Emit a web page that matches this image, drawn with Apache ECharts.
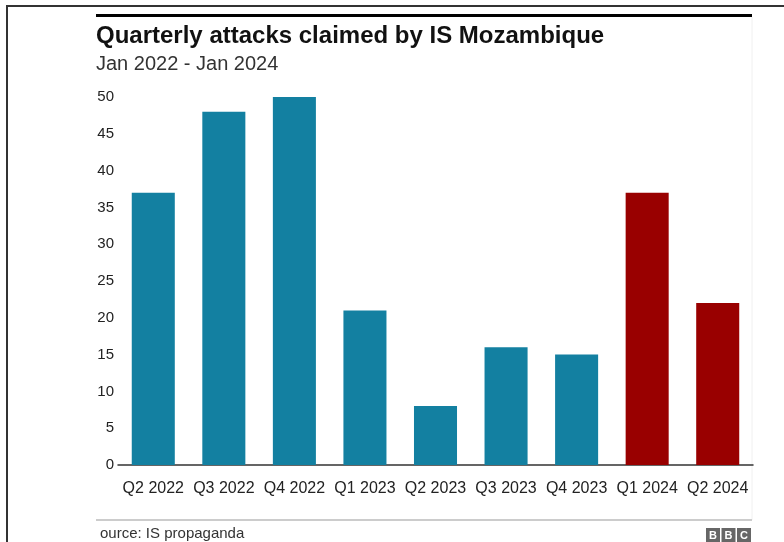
<!DOCTYPE html>
<html>
<head>
<meta charset="utf-8">
<script src="https://cdn.jsdelivr.net/npm/echarts@6/dist/echarts.min.js"></script>
<style>
  html, body { margin: 0; padding: 0; background: #fff; }
  #chart { width: 784px; height: 542px; }
</style>
</head>
<body>
<div id="chart"></div>
<script>
const quarters = ['Q2 2022', 'Q3 2022', 'Q4 2022', 'Q1 2023', 'Q2 2023', 'Q3 2023', 'Q4 2023', 'Q1 2024', 'Q2 2024']
const attacks = [37, 48, 50, 21, 8, 16, 15, 37, 22]
// last two quarters are highlighted in red
const highlighted = ['Q1 2024', 'Q2 2024']

const BLUE = '#1380a1'
const RED = '#990000'
const FONT = '"Liberation Sans", Arial, sans-serif'

const chart = echarts.init(document.getElementById('chart'))

const option = {
  backgroundColor: '#fff',
  animation: false,
  title: {
    text: 'Quarterly attacks claimed by IS Mozambique',
    subtext: 'Jan 2022 - Jan 2024',
    left: 91,
    top: 19,
    itemGap: 6,
    textStyle: { fontFamily: FONT, fontSize: 24, fontWeight: 'bold', color: '#111' },
    subtextStyle: { fontFamily: FONT, fontSize: 20, color: '#333' }
  },
  grid: { left: 118, right: 31, top: 97, bottom: 77 },
  xAxis: {
    type: 'category',
    data: quarters,
    axisLine: { lineStyle: { color: '#333', width: 1.5 } },
    axisTick: { show: false },
    axisLabel: { interval: 0, color: '#222', fontFamily: FONT, fontSize: 16, margin: 16 }
  },
  yAxis: {
    type: 'value',
    min: 0,
    max: 50,
    interval: 5,
    axisLine: { show: false },
    axisTick: { show: false },
    splitLine: { show: false },
    axisLabel: { color: '#222', fontFamily: FONT, fontSize: 15, margin: 4 }
  },
  series: [{
    type: 'bar',
    barWidth: '61%',
    data: attacks.map((v, i) => ({
      value: v,
      itemStyle: { color: highlighted.includes(quarters[i]) ? RED : BLUE }
    }))
  }],
  graphic: [
    // outer frame
    { type: 'line', shape: { x1: 7, y1: 6, x2: 784, y2: 6 }, style: { stroke: '#333', lineWidth: 2 } },
    { type: 'line', shape: { x1: 7, y1: 5, x2: 7, y2: 542 }, style: { stroke: '#333', lineWidth: 2 } },
    // BBC top rule
    { type: 'rect', shape: { x: 96, y: 14, width: 656, height: 3 }, style: { fill: '#000' } },
    // faint card edge
    { type: 'line', shape: { x1: 752, y1: 17, x2: 752, y2: 520 }, style: { stroke: '#f0f0f0', lineWidth: 1 } },
    // footer rule + source
    { type: 'rect', shape: { x: 96, y: 519, width: 656, height: 2 }, style: { fill: '#cccccc' } },
    { type: 'text', left: 100, top: 526, style: { text: 'ource: IS propaganda', fontFamily: FONT, fontSize: 15, fill: '#333' } },
    // BBC blocks
    { type: 'group', left: 706, top: 528, children: [0, 1, 2].map(i => ({
      type: 'group', x: i * 15.5, children: [
        { type: 'rect', shape: { x: 0, y: 0, width: 14, height: 14 }, style: { fill: '#666' } },
        { type: 'text', x: 7, y: 7.5, style: { text: 'BBC'[i], fontFamily: FONT, fontSize: 11, fontWeight: 'bold', fill: '#fff', align: 'center', verticalAlign: 'middle' } }
      ]
    })) }
  ]
}

chart.setOption(option)
</script>
</body>
</html>
